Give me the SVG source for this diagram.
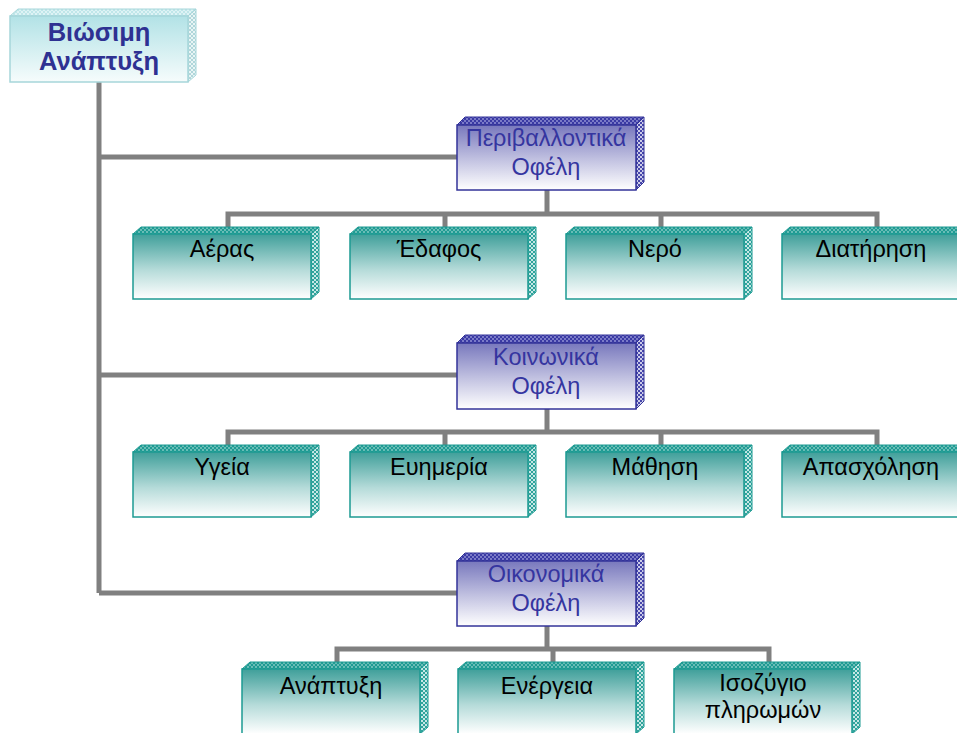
<svg xmlns="http://www.w3.org/2000/svg" width="957" height="733" viewBox="0 0 957 733">
<defs>
<linearGradient id="gLeaf" x1="0" y1="0" x2="0" y2="1">
<stop offset="0" stop-color="#3f9f9a"/>
<stop offset="0.55" stop-color="#b5dbd9"/>
<stop offset="1" stop-color="#ffffff"/>
</linearGradient>
<linearGradient id="gCat" x1="0" y1="0" x2="0" y2="1">
<stop offset="0" stop-color="#7878bd"/>
<stop offset="0.55" stop-color="#c4c4e2"/>
<stop offset="1" stop-color="#ffffff"/>
</linearGradient>
<linearGradient id="gRoot" x1="0" y1="0" x2="0" y2="1">
<stop offset="0" stop-color="#b2e2e6"/>
<stop offset="1" stop-color="#f6fcfc"/>
</linearGradient>
<pattern id="pLeaf" width="4" height="4" patternUnits="userSpaceOnUse">
<rect width="4" height="4" fill="#1f9b93"/>
<path d="M0 0L4 4M4 0L0 4" stroke="#7cc4bf" stroke-width="0.8"/>
</pattern>
<pattern id="pLeafSide" width="4" height="4" patternUnits="userSpaceOnUse">
<rect width="4" height="4" fill="#2fa39b"/>
<path d="M0 0L4 4M4 0L0 4" stroke="#d8eeee" stroke-width="0.9"/>
</pattern>
<pattern id="pCat" width="4" height="4" patternUnits="userSpaceOnUse">
<rect width="4" height="4" fill="#3a3aa4"/>
<path d="M0 0L4 4M4 0L0 4" stroke="#8a8ad0" stroke-width="0.8"/>
</pattern>
<pattern id="pCatSide" width="4" height="4" patternUnits="userSpaceOnUse">
<rect width="4" height="4" fill="#4646aa"/>
<path d="M0 0L4 4M4 0L0 4" stroke="#dcdcf0" stroke-width="0.9"/>
</pattern>
<pattern id="pRoot" width="4" height="4" patternUnits="userSpaceOnUse">
<rect width="4" height="4" fill="#bfe6e9"/>
<path d="M0 0L4 4M4 0L0 4" stroke="#e6f6f7" stroke-width="0.8"/>
</pattern>
<pattern id="pRootSide" width="4" height="4" patternUnits="userSpaceOnUse">
<rect width="4" height="4" fill="#b0d6da"/>
<path d="M0 0L4 4M4 0L0 4" stroke="#eef8f8" stroke-width="0.9"/>
</pattern>
</defs>
<style>
.con{fill:none;stroke:#808080;stroke-width:5;stroke-linecap:butt;stroke-linejoin:miter}
.lf{fill:url(#gLeaf);stroke:#1c9a92;stroke-width:1.5}
.lt{fill:url(#pLeaf);stroke:#1c9a92;stroke-width:1}
.ls{fill:url(#pLeafSide);stroke:#1c9a92;stroke-width:1}
.cf{fill:url(#gCat);stroke:#333399;stroke-width:1.5}
.ct{fill:url(#pCat);stroke:#333399;stroke-width:1}
.cs{fill:url(#pCatSide);stroke:#333399;stroke-width:1}
.rf{fill:url(#gRoot);stroke:#a6d6da;stroke-width:1.5}
.rt{fill:url(#pRoot);stroke:#a6d6da;stroke-width:1}
.rs{fill:url(#pRootSide);stroke:#a6d6da;stroke-width:1}
.tl{font-family:"Liberation Sans",Arial,sans-serif;font-size:23.5px;fill:#000;text-anchor:middle}
.tc{font-family:"Liberation Sans",Arial,sans-serif;font-size:23.5px;fill:#3535a0;text-anchor:middle}
.tr{font-family:"Liberation Sans",Arial,sans-serif;font-size:25.5px;font-weight:bold;fill:#2e3192;text-anchor:middle}
</style>
<g id="connectors">
<path class="con" d="M99 82V593"/>
<path class="con" d="M99 157H457"/>
<path class="con" d="M99 375H457"/>
<path class="con" d="M99 593H457"/>
<path class="con" d="M547 190V214M228 227V214H877V227M445 214V227M661 214V227"/>
<path class="con" d="M547 409V432M228 445V432H877V445M445 432V445M661 432V445"/>
<path class="con" d="M547 626V649M337 662V649H769V662M553 649V662"/>
</g>
<g id="root" transform="translate(10,16)">
<polygon class="rt" points="0,0 8,-7 186,-7 178,0"/>
<polygon class="rs" points="178,0 186,-7 186,59 178,66"/>
<rect class="rf" x="0" y="0" width="178" height="66"/>
<text class="tr" x="89" y="25">Βιώσιμη</text>
<text class="tr" x="89" y="54">Ανάπτυξη</text>
</g>
<g id="cat-env" transform="translate(457,125)">
<polygon class="ct" points="0,0 8,-8 187,-8 179,0"/>
<polygon class="cs" points="179,0 187,-8 187,57 179,65"/>
<rect class="cf" x="0" y="0" width="179" height="65"/>
<text class="tc" x="89" y="21">Περιβαλλοντικά</text>
<text class="tc" x="89" y="50">Οφέλη</text>
</g>
<g id="cat-soc" transform="translate(457,343)">
<polygon class="ct" points="0,0 8,-8 187,-8 179,0"/>
<polygon class="cs" points="179,0 187,-8 187,58 179,66"/>
<rect class="cf" x="0" y="0" width="179" height="66"/>
<text class="tc" x="89" y="22">Κοινωνικά</text>
<text class="tc" x="89" y="51">Οφέλη</text>
</g>
<g id="cat-eco" transform="translate(457,561)">
<polygon class="ct" points="0,0 8,-8 187,-8 179,0"/>
<polygon class="cs" points="179,0 187,-8 187,57 179,65"/>
<rect class="cf" x="0" y="0" width="179" height="65"/>
<text class="tc" x="89" y="21">Οικονομικά</text>
<text class="tc" x="89" y="50">Οφέλη</text>
</g>
<g id="leaf-air" transform="translate(133,234)">
<polygon class="lt" points="0,0 8,-7 186,-7 178,0"/>
<polygon class="ls" points="178,0 186,-7 186,58 178,65"/>
<rect class="lf" x="0" y="0" width="178" height="65"/>
<text class="tl" x="89" y="23">Αέρας</text>
</g>
<g id="leaf-soil" transform="translate(350,234)">
<polygon class="lt" points="0,0 8,-7 186,-7 178,0"/>
<polygon class="ls" points="178,0 186,-7 186,58 178,65"/>
<rect class="lf" x="0" y="0" width="178" height="65"/>
<text class="tl" x="89" y="23">Έδαφος</text>
</g>
<g id="leaf-water" transform="translate(566,234)">
<polygon class="lt" points="0,0 8,-7 186,-7 178,0"/>
<polygon class="ls" points="178,0 186,-7 186,58 178,65"/>
<rect class="lf" x="0" y="0" width="178" height="65"/>
<text class="tl" x="89" y="23">Νερό</text>
</g>
<g id="leaf-conservation" transform="translate(782,234)">
<polygon class="lt" points="0,0 8,-7 186,-7 178,0"/>
<polygon class="ls" points="178,0 186,-7 186,58 178,65"/>
<rect class="lf" x="0" y="0" width="178" height="65"/>
<text class="tl" x="89" y="23">Διατήρηση</text>
</g>
<g id="leaf-health" transform="translate(133,452)">
<polygon class="lt" points="0,0 8,-7 186,-7 178,0"/>
<polygon class="ls" points="178,0 186,-7 186,58 178,65"/>
<rect class="lf" x="0" y="0" width="178" height="65"/>
<text class="tl" x="89" y="23">Υγεία</text>
</g>
<g id="leaf-welfare" transform="translate(350,452)">
<polygon class="lt" points="0,0 8,-7 186,-7 178,0"/>
<polygon class="ls" points="178,0 186,-7 186,58 178,65"/>
<rect class="lf" x="0" y="0" width="178" height="65"/>
<text class="tl" x="89" y="23">Ευημερία</text>
</g>
<g id="leaf-learning" transform="translate(566,452)">
<polygon class="lt" points="0,0 8,-7 186,-7 178,0"/>
<polygon class="ls" points="178,0 186,-7 186,58 178,65"/>
<rect class="lf" x="0" y="0" width="178" height="65"/>
<text class="tl" x="89" y="23">Μάθηση</text>
</g>
<g id="leaf-employment" transform="translate(782,452)">
<polygon class="lt" points="0,0 8,-7 186,-7 178,0"/>
<polygon class="ls" points="178,0 186,-7 186,58 178,65"/>
<rect class="lf" x="0" y="0" width="178" height="65"/>
<text class="tl" x="89" y="23">Απασχόληση</text>
</g>
<g id="leaf-development" transform="translate(242,669)">
<polygon class="lt" points="0,0 8,-7 186,-7 178,0"/>
<polygon class="ls" points="178,0 186,-7 186,58 178,65"/>
<rect class="lf" x="0" y="0" width="178" height="65"/>
<text class="tl" x="89" y="25">Ανάπτυξη</text>
</g>
<g id="leaf-energy" transform="translate(458,669)">
<polygon class="lt" points="0,0 8,-7 186,-7 178,0"/>
<polygon class="ls" points="178,0 186,-7 186,58 178,65"/>
<rect class="lf" x="0" y="0" width="178" height="65"/>
<text class="tl" x="89" y="25">Ενέργεια</text>
</g>
<g id="leaf-balance" transform="translate(674,669)">
<polygon class="lt" points="0,0 8,-7 186,-7 178,0"/>
<polygon class="ls" points="178,0 186,-7 186,58 178,65"/>
<rect class="lf" x="0" y="0" width="178" height="65"/>
<text class="tl" x="89" y="22">Ισοζύγιο</text>
<text class="tl" x="89" y="49">πληρωμών</text>
</g>
</svg>
